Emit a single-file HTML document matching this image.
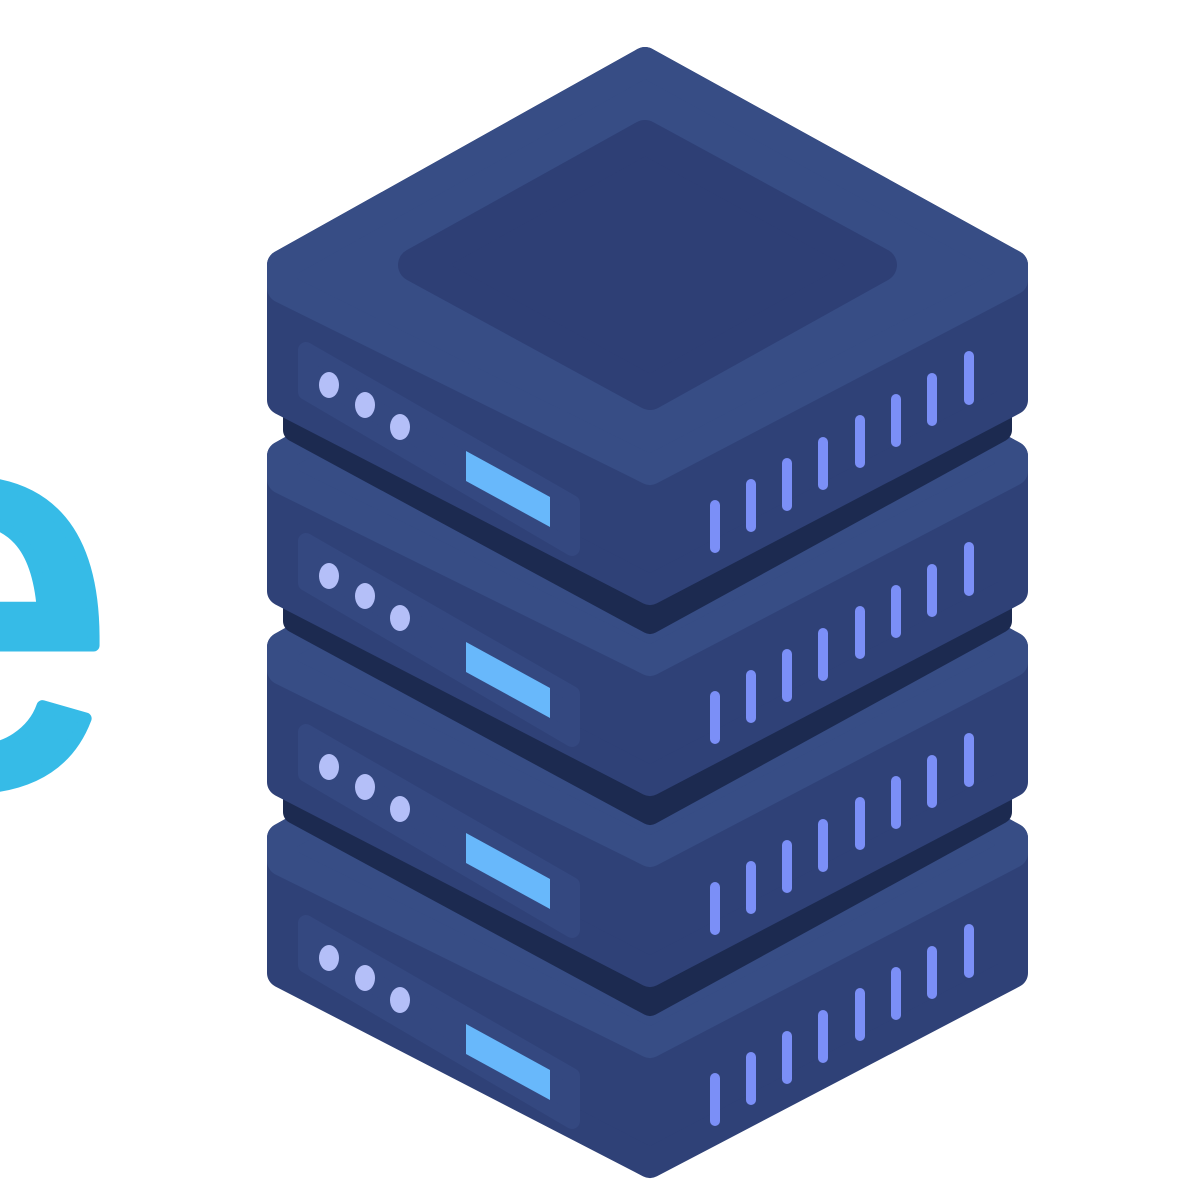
<!DOCTYPE html>
<html><head><meta charset="utf-8"><style>
html,body{margin:0;padding:0;background:#fff;width:1198px;height:1200px;overflow:hidden}
svg{display:block}
</style></head><body>
<svg width="1198" height="1200" viewBox="0 0 1198 1200" xmlns="http://www.w3.org/2000/svg">
<defs>
<polygon id="gap" points="295,400 1000,400 1000,430 650,622 295,430" fill="#1c2a50" stroke="#1c2a50" stroke-width="24" stroke-linejoin="round"/>
<g id="unit">
  <polygon points="282,265 645,62 1013,265 1013,400 650,590 282,400" fill="#2f4177" stroke="#2f4177" stroke-width="30" stroke-linejoin="round"/>
  <polygon points="282,265 645,62 1013,265 1013,280 650,470 282,288" fill="#374d85" stroke="#374d85" stroke-width="30" stroke-linejoin="round"/>
  <polygon points="306,350 572,503 572,548 306,392" fill="#344880" stroke="#344880" stroke-width="16" stroke-linejoin="round"/>
  <ellipse cx="329" cy="385" rx="10" ry="13" fill="#b4bff8"/>
  <ellipse cx="365" cy="405" rx="10" ry="13" fill="#b4bff8"/>
  <ellipse cx="400" cy="427" rx="10" ry="13" fill="#b4bff8"/>
  <polygon points="466,451 550,497 550,527 466,481" fill="#68b8fb"/>
  <g stroke="#7b8ff7" stroke-width="10" stroke-linecap="round">
    <line x1="715" y1="505" x2="715" y2="548"/>
    <line x1="751" y1="484" x2="751" y2="527"/>
    <line x1="787" y1="463" x2="787" y2="506"/>
    <line x1="823" y1="442" x2="823" y2="485"/>
    <line x1="860" y1="420" x2="860" y2="463"/>
    <line x1="896" y1="399" x2="896" y2="442"/>
    <line x1="932" y1="378" x2="932" y2="421"/>
    <line x1="969" y1="356" x2="969" y2="400"/>
  </g>
</g>
</defs>
<text x="-193" y="783" font-family="Liberation Sans, sans-serif" font-size="560" fill="#36bbe7" stroke="#36bbe7" stroke-width="12" stroke-linejoin="round">e</text>
<use href="#unit" transform="translate(0,573)"/>
<use href="#gap" transform="translate(0,382)"/>
<use href="#unit" transform="translate(0,382)"/>
<use href="#gap" transform="translate(0,191)"/>
<use href="#unit" transform="translate(0,191)"/>
<use href="#gap"/>
<use href="#unit"/>
<polygon points="415,265 645,137 880,265 650,393" fill="#2e3f75" stroke="#2e3f75" stroke-width="34" stroke-linejoin="round"/>
</svg>
</body></html>
